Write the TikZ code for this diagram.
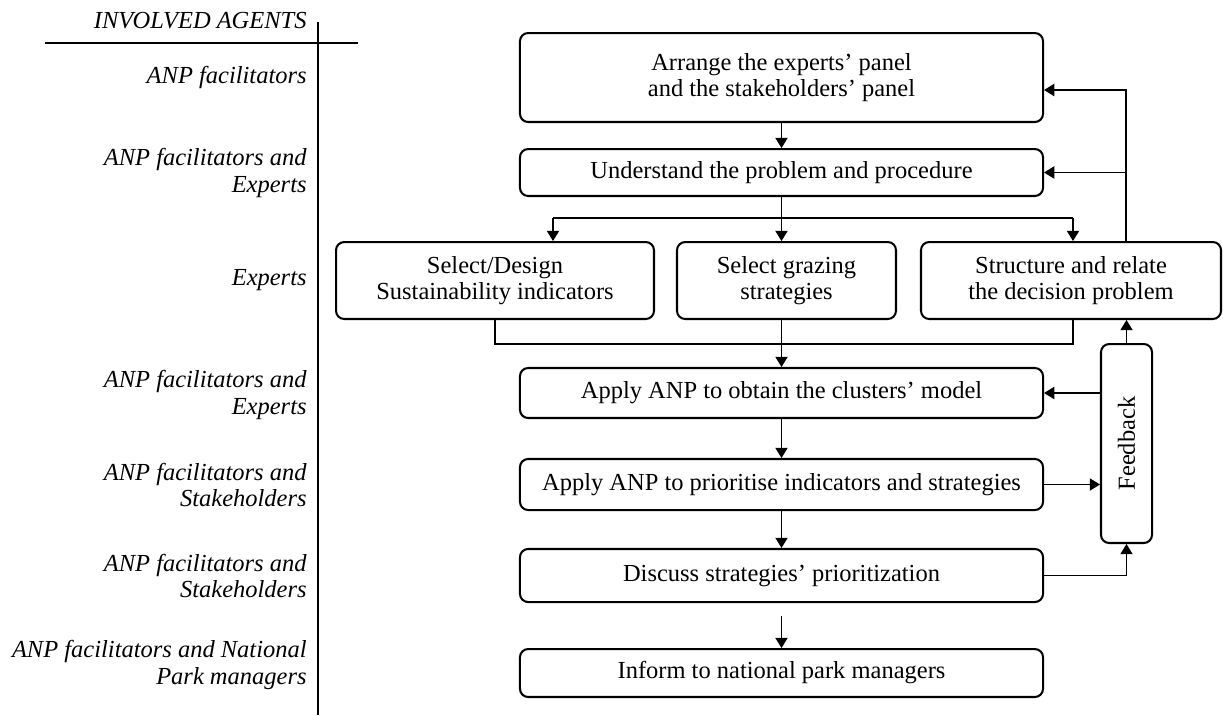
\documentclass[tikz,border=0pt]{standalone}
\usepackage{fontspec}
\setmainfont{Liberation Serif}
\usetikzlibrary{arrows.meta}

\tikzset{
  stage/.style={draw, line width=1pt, rounded corners=4pt, align=center, inner sep=0pt},
  agent/.style={anchor=east, align=right, font=\fontsize{12}{12.8}\selectfont\itshape, inner sep=0pt},
  link/.style={line width=0.6pt},
  arr/.style={link, -{Triangle[length=5pt,width=6pt]}},
  axis/.style={line width=1pt},
}

\begin{document}
\begin{tikzpicture}[x=0.49pt, y=-0.49pt, font=\fontsize{12}{13}\selectfont]
\useasboundingbox (0,0) rectangle (1223,715);

% agents column
\draw [axis] (45,43) -- (358,43);
\draw [axis] (318,22) -- (318,715);
\node [agent] (head) at (307,21) {INVOLVED AGENTS};

\node [agent] (ag_arrange) at (307,77) {ANP facilitators};
\node [agent] (ag_understand) at (307,173) {ANP facilitators and\\Experts};
\node [agent] (ag_select) at (307,280) {Experts};
\node [agent] (ag_apply1) at (307,395) {ANP facilitators and\\Experts};
\node [agent] (ag_apply2) at (307,485) {ANP facilitators and\\Stakeholders};
\node [agent] (ag_discuss) at (307,576) {ANP facilitators and\\Stakeholders};
\node [agent] (ag_inform) at (307,665) {ANP facilitators and National\\Park managers};

% stages
\node [stage, minimum width=256.3pt, minimum height=43.6pt] (arrange) at (781.5,77.5) {Arrange the experts' panel\\and the stakeholders' panel};
\node [stage, minimum width=256.3pt, minimum height=23pt] (understand) at (781.5,172.5) {Understand the problem and procedure};
\node [stage, minimum width=155.8pt, minimum height=37.7pt] (seldesign) at (495,280.5) {Select/Design\\Sustainability indicators};
\node [stage, minimum width=107.3pt, minimum height=37.7pt] (selgraz) at (786.5,280.5) {Select grazing\\strategies};
\node [stage, minimum width=147pt, minimum height=37.7pt] (structure) at (1071,280.5) {Structure and relate\\the decision problem};
\node [stage, minimum width=256.3pt, minimum height=24.5pt] (apply1) at (781.5,393) {Apply ANP to obtain the clusters' model};
\node [stage, minimum width=256.3pt, minimum height=25pt] (apply2) at (781.5,484.5) {Apply ANP to prioritise indicators and strategies};
\node [stage, minimum width=256.3pt, minimum height=26pt] (discuss) at (781.5,575.5) {Discuss strategies' prioritization};
\node [stage, minimum width=256.3pt, minimum height=23.5pt] (inform) at (781.5,673) {Inform to national park managers};
\node [stage, rotate=90, minimum width=97.5pt, minimum height=25pt] (feedback) at (1126.5,443.5) {Feedback};

\coordinate (forkL) at (553,218);
\coordinate (forkR) at (1073,218);
\coordinate (joinL) at (495,344);
\coordinate (joinR) at (1073,344);
\coordinate (loop) at (1126,90);

% main flow
\draw [arr] (arrange.south) -- (understand.north);
\draw [arr] (understand.south) -- (understand.south |- selgraz.north);
\draw [link] (forkL) -- (forkR);
\draw [arr] (forkL) -- (forkL |- seldesign.north);
\draw [arr] (forkR) -- (forkR |- structure.north);

\draw [link] (seldesign.south) -- (joinL) -- (joinR) -- (joinR |- structure.south);
\draw [arr] (apply1.north |- selgraz.south) -- (apply1.north);
\draw [arr] (apply1.south) -- (apply2.north);
\draw [arr] (apply2.south) -- (discuss.north);
\draw [arr] ([yshift=-6.4pt]discuss.south) -- (inform.north);

% feedback loop
\draw [arr] (loop |- structure.north) -- (loop) -- (arrange.east |- loop);
\draw [arr] (loop |- understand.east) -- (understand.east);
\draw [arr] (feedback.east) -- (feedback.east |- structure.south);
\draw [arr] (feedback.north |- apply1.east) -- (apply1.east);
\draw [arr] (apply2.east) -- (apply2.east -| feedback.north);
\draw [arr] (discuss.east) -| (feedback.west);

\end{tikzpicture}
\end{document}
